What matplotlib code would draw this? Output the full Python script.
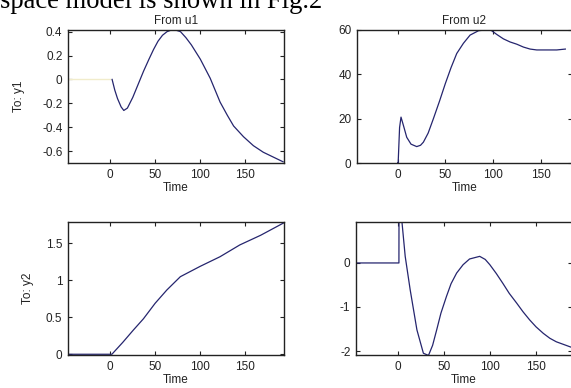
import matplotlib
matplotlib.use("Agg")
import matplotlib.pyplot as plt

W, H = 571, 388
plt.rcParams['font.family'] = ['Liberation Sans', 'DejaVu Sans']

# ---- data ----
pre_t = [-47, 0]
pre_y = [0, 0]

t11 = [2, 5, 8, 12, 15, 19, 25, 31, 37, 43, 48, 53, 58, 63, 70, 78, 84, 90, 100, 111, 122, 130, 137, 148, 159, 170, 181, 192]
y11 = [0, -0.09, -0.16, -0.23, -0.26, -0.24, -0.15, -0.04, 0.07, 0.17, 0.25, 0.32, 0.37, 0.40, 0.42, 0.40, 0.35, 0.29, 0.17, 0.01, -0.19, -0.30, -0.39, -0.48, -0.555, -0.61, -0.65, -0.69]

t12 = [0, 0.5, 2, 3.5, 6, 9.5, 14, 20, 24, 27, 32, 37.5, 44, 50, 56, 62, 69, 76, 85, 97, 104, 111, 118, 125, 132, 139, 146, 153, 160, 167, 176]
y12 = [0, 0, 16, 20.7, 17, 11.6, 8.5, 7.4, 8.0, 9.4, 13.5, 20, 28, 35.8, 43, 49.4, 54, 57.7, 59.7, 60.2, 58, 56, 54.6, 53.6, 52.3, 51.4, 51, 51, 51, 51, 51.4]

t21 = [-47, 0, 2, 14, 26, 37, 50, 63, 78, 100, 122, 144, 167, 193]
y21 = [0, 0, 0.0, 0.16, 0.33, 0.48, 0.69, 0.87, 1.05, 1.19, 1.32, 1.48, 1.61, 1.78]

t22 = [-45, 1.5, 1.6, 3, 4.7, 8.3, 13.7, 21, 28, 33.5, 38, 42.4, 47, 53, 58, 64, 71, 78, 89, 95, 100, 107, 114, 121, 129, 136, 143, 150, 158, 165, 172, 189]
y22 = [0, 0, 1.2, 1.2, 0.95, 0.15, -0.61, -1.52, -2.05, -2.1, -1.87, -1.52, -1.14, -0.76, -0.47, -0.23, -0.04, 0.09, 0.15, 0.08, -0.04, -0.24, -0.46, -0.69, -0.91, -1.11, -1.29, -1.45, -1.6, -1.71, -1.79, -1.92]

xticks = [0, 50, 100, 150]
xticklabels = ['0', '50', '100', '150']
yt11 = [-0.6, -0.4, -0.2, 0, 0.2, 0.4]
ytl11 = ['-0.6', '-0.4', '-0.2', '0', '0.2', '0.4']
yt12 = [0, 20, 40, 60]
ytl12 = ['0', '20', '40', '60']
yt21 = [0, 0.5, 1, 1.5]
ytl21 = ['0', '0.5', '1', '1.5']
yt22 = [-2, -1, 0]
ytl22 = ['-2', '-1', '0']

titles = ['From u1', 'From u2']
ylabels = ['To: y1', 'To: y2']
xlabel = 'Time'
header = 'space model is shown in Fig.2'

line_color = '#25256e'
pre_color = '#f1eccb'
ink = '#222222'

fig = plt.figure(figsize=(W / 100, H / 100), dpi=100)

def px_axes(l, t, r, b):
    return fig.add_axes([l / W, 1 - b / H, (r - l) / W, (b - t) / H])

ax11 = px_axes(68, 30, 284, 163)
ax12 = px_axes(357, 30, 572, 163)
ax21 = px_axes(68, 222, 284, 355)
ax22 = px_axes(356, 222, 572, 355)

ax11.plot(pre_t, pre_y, color=pre_color, lw=1.0)
ax11.plot(t11, y11, color=line_color, lw=0.9)
ax12.plot(t12, y12, color=line_color, lw=0.9)
ax21.plot(t21, y21, color=line_color, lw=0.9)
ax22.plot(t22, y22, color=line_color, lw=0.9)

ax11.set_xlim(-47, 193); ax11.set_ylim(-0.70, 0.414)
ax12.set_xlim(-42.7, 183); ax12.set_ylim(0, 60)
ax21.set_xlim(-46.7, 193); ax21.set_ylim(-0.01, 1.79)
ax22.set_xlim(-45, 189); ax22.set_ylim(-2.09, 0.93)

for ax, yt, ytl in [(ax11, yt11, ytl11), (ax12, yt12, ytl12), (ax21, yt21, ytl21), (ax22, yt22, ytl22)]:
    ax.set_xticks(xticks)
    ax.set_xticklabels(xticklabels)
    ax.set_yticks(yt)
    ax.set_yticklabels(ytl)
    ax.tick_params(direction='in', length=3, width=0.8, top=True, right=True,
                   labelsize=8.5, colors=ink, pad=4)
    for s in ax.spines.values():
        s.set_linewidth(1.0)
        s.set_color(ink)
    ax.set_xlabel(xlabel, fontsize=8.5, color=ink, labelpad=1)

ax11.set_title(titles[0], fontsize=8.5, color=ink, pad=4)
ax12.set_title(titles[1], fontsize=8.5, color=ink, pad=4)
ax11.set_ylabel(ylabels[0], fontsize=8.5, color=ink, labelpad=12.5)
ax21.set_ylabel(ylabels[1], fontsize=8.5, color=ink, labelpad=8.5)

fig.text(0.0, 1 - 7.5 / H, header, fontsize=19.2, family='Liberation Serif',
         ha='left', va='baseline', color='black')

fig.savefig('out.png', dpi=100)
